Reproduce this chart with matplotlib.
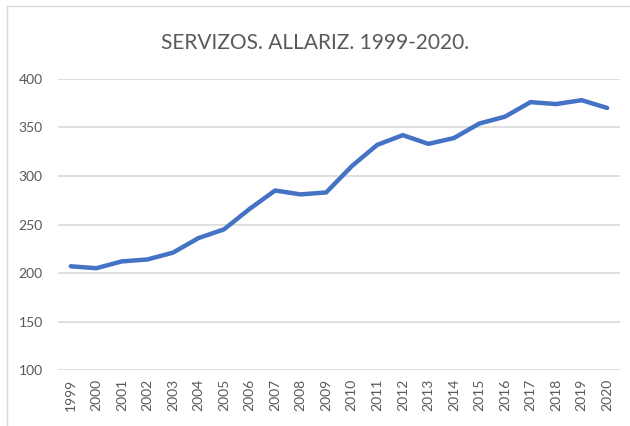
import matplotlib.pyplot as plt
from matplotlib.lines import Line2D

years = [str(y) for y in range(1999, 2021)]
values = [207, 205, 212, 214, 221, 236, 245, 266, 285, 281, 283,
          310, 332, 342, 333, 339, 354, 361, 376, 374, 378, 370]

plt.rcParams['font.family'] = ['Lato', 'DejaVu Sans']

fig = plt.figure(figsize=(6.3, 4.26), dpi=100)
ax = fig.add_axes([0.092, 0.131, 0.892, 0.684])

ax.plot(range(len(years)), values, color='#4472C4', linewidth=3.2,
        solid_capstyle='round', solid_joinstyle='round')

ax.set_xlim(-0.5, len(years) - 0.5)
ax.set_ylim(100, 400)
ax.set_yticks(range(100, 401, 50))
ax.set_xticks(range(len(years)))
ax.set_xticklabels(years, rotation=90)
ax.tick_params(axis='both', length=0, colors='#595959', labelsize=10)
ax.tick_params(axis='y', pad=11)
ax.tick_params(axis='x', pad=6)
ax.grid(axis='y', color='#D9D9D9', linewidth=1.2)
ax.set_axisbelow(True)
for s in ax.spines.values():
    s.set_visible(False)

fig.text(0.5, 0.9, 'SERVIZOS. ALLARIZ. 1999-2020.', ha='center', va='center',
         fontsize=15, color='#595959')

# chart border (top and left edges visible)
fig.add_artist(Line2D([0.011, 1.0], [0.986, 0.986], color='#D9D9D9', linewidth=1, transform=fig.transFigure))
fig.add_artist(Line2D([0.011, 0.011], [0.0, 0.986], color='#D9D9D9', linewidth=1, transform=fig.transFigure))

fig.savefig('out.png', dpi=100)
